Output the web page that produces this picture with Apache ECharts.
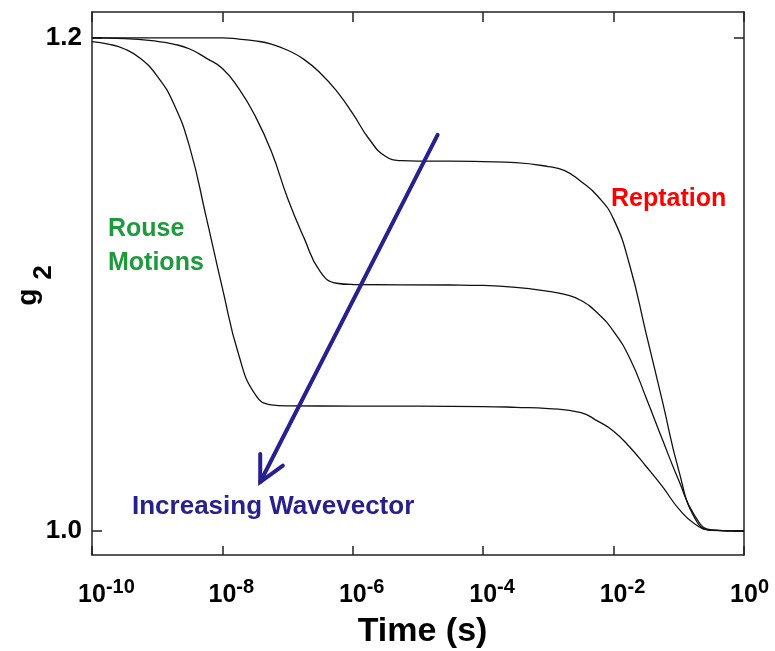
<!DOCTYPE html>
<html>
<head>
<meta charset="utf-8">
<script src="https://cdn.jsdelivr.net/npm/echarts@6/dist/echarts.min.js"></script>
<style>
html,body{margin:0;padding:0;background:#fff;}
#main{width:775px;height:651px;}
</style>
</head>
<body>
<div id="main"></div>
<script>
// ---- data (time as log10 exponent, g2 values) ----
var curve1Exp = [-10, -8.0, -7.75, -7.5, -7.25, -7.0, -6.75, -6.5, -6.25, -6.0, -5.75, -5.5, -5.25, -5.0, -4.5, -4.0, -3.5, -3.0, -2.75, -2.5, -2.25, -2.0, -1.75, -1.5, -1.25, -1.0, -0.75, -0.5, 0];
var curve1G   = [1.2000, 1.2000, 1.1995, 1.1988, 1.1975, 1.1950, 1.1913, 1.1858, 1.1785, 1.1693, 1.1590, 1.1520, 1.1502, 1.1500, 1.1500, 1.1498, 1.1494, 1.1478, 1.1462, 1.1418, 1.1360, 1.1265, 1.1075, 1.0800, 1.0525, 1.0245, 1.0050, 1.0003, 1.0000];

var curve2Exp = [-10, -9.5, -9.0, -8.75, -8.5, -8.25, -8.0, -7.75, -7.5, -7.25, -7.0, -6.75, -6.5, -6.25, -6.0, -4.5, -4.0, -3.5, -3.0, -2.75, -2.5, -2.25, -2.0, -1.75, -1.5, -1.25, -1.0, -0.75, -0.5, 0];
var curve2G   = [1.2000, 1.1997, 1.1986, 1.1975, 1.1955, 1.1918, 1.1876, 1.1795, 1.1685, 1.1540, 1.1350, 1.1190, 1.1052, 1.1005, 1.1000, 1.0998, 1.0996, 1.0988, 1.0972, 1.0960, 1.0935, 1.0885, 1.0810, 1.0700, 1.0540, 1.0370, 1.0205, 1.0060, 1.0005, 1.0000];

var curve3Exp = [-10, -9.75, -9.5, -9.25, -9.0, -8.75, -8.5, -8.25, -8.0, -7.75, -7.5, -7.25, -7.0, -6.0, -4.0, -3.5, -3.0, -2.5, -2.25, -2.0, -1.75, -1.5, -1.25, -1.0, -0.75, -0.5, 0];
var curve3G   = [1.1985, 1.1975, 1.1955, 1.1915, 1.1845, 1.1735, 1.1555, 1.1275, 1.0985, 1.0715, 1.0555, 1.0512, 1.0508, 1.0507, 1.0505, 1.0502, 1.0497, 1.0480, 1.0447, 1.0405, 1.0340, 1.0262, 1.0180, 1.0090, 1.0028, 1.0004, 1.0000];

var xTickExps = [-10, -8, -6, -4, -2, 0];
var yTicks = [1.0, 1.2];
var yRange = [0.9903, 1.2105];
var xRange = [-10, 0];

// arrow annotation (data coordinates: time, g2)
var arrowFrom = [2.0e-5, 1.1607];
var arrowTo = [3.8e-8, 1.0199];

var FONT = "'Liberation Sans', Arial, Helvetica, sans-serif";

function pairs(ex, g) {
  return ex.map(function (e, i) { return [Math.pow(10, e), g[i]]; });
}
var xTickVals = xTickExps.map(function (e) { return Math.pow(10, e); });

var chart = echarts.init(document.getElementById('main'), null, {renderer: 'canvas'});

var axisLineStyle = {color: '#222', width: 1.5};

function lineSeries(ex, g) {
  return {
    type: 'line', data: pairs(ex, g), showSymbol: false, symbol: 'none',
    smooth: 0.5,
    lineStyle: {color: '#111', width: 1.3}, silent: true
  };
}

var option = {
  animation: false,
  backgroundColor: '#fff',
  grid: {left: 92, right: 31, top: 12, bottom: 96, containLabel: false, outerBoundsMode: 'none'},
  xAxis: [{
    type: 'log', logBase: 10, min: Math.pow(10, xRange[0]), max: Math.pow(10, xRange[1]),
    position: 'bottom',
    axisLine: {show: true, onZero: false, lineStyle: axisLineStyle},
    axisTick: {show: true, inside: true, length: 9, lineStyle: axisLineStyle, customValues: xTickVals},
    splitLine: {show: false}, minorTick: {show: false},
    axisLabel: {
      show: true, margin: 22, customValues: xTickVals,
      formatter: function (v) {
        var e = Math.round(Math.log(v) / Math.LN10);
        var s = String(e);
        return '{h|' + s + '}{b|10}{e|' + s + '}';
      },
      rich: {
        b: {fontSize: 25, fontWeight: 'bold', color: '#000', fontFamily: FONT, verticalAlign: 'bottom'},
        e: {fontSize: 20, fontWeight: 'bold', color: '#000', fontFamily: FONT, verticalAlign: 'bottom', padding: [0, 0, 11, 0]},
        h: {fontSize: 20, fontWeight: 'bold', color: 'rgba(0,0,0,0)', fontFamily: FONT, verticalAlign: 'bottom', padding: [0, 0, 11, 0]}
      }
    },
    name: 'Time (s)', nameLocation: 'middle', nameGap: 60, nameMoveOverlap: false,
    nameTextStyle: {fontSize: 34, fontWeight: 'bold', color: '#000', fontFamily: FONT, padding: [0, 0, 0, 9]}
  }, {
    type: 'log', logBase: 10, min: Math.pow(10, xRange[0]), max: Math.pow(10, xRange[1]),
    position: 'top',
    axisLine: {show: true, onZero: false, lineStyle: axisLineStyle},
    axisTick: {show: true, inside: true, length: 10, lineStyle: axisLineStyle, customValues: xTickVals},
    axisLabel: {show: false}, splitLine: {show: false}
  }],
  yAxis: [{
    type: 'value', min: yRange[0], max: yRange[1], position: 'left',
    axisLine: {show: true, onZero: false, lineStyle: axisLineStyle},
    axisTick: {show: true, inside: true, length: 10, lineStyle: axisLineStyle, customValues: yTicks},
    splitLine: {show: false},
    axisLabel: {
      show: true, margin: 10, customValues: yTicks,
      formatter: function (v) { return v.toFixed(1); },
      fontSize: 26, fontWeight: 'bold', color: '#000', fontFamily: FONT
    },
    name: '{g|g}{s|2}', nameLocation: 'middle', nameGap: 35, nameRotate: 90, nameMoveOverlap: false,
    nameTextStyle: {
      padding: [0, 4, 0, 0],
      rich: {
        g: {fontSize: 28, fontWeight: 'bold', color: '#000', fontFamily: FONT, verticalAlign: 'top', padding: [5, 9, 0, 0]},
        s: {fontSize: 26, fontWeight: 'bold', color: '#000', fontFamily: FONT, verticalAlign: 'top', padding: [22, 0, 0, 0]}
      }
    }
  }, {
    type: 'value', min: yRange[0], max: yRange[1], position: 'right',
    axisLine: {show: true, onZero: false, lineStyle: axisLineStyle},
    axisTick: {show: true, inside: true, length: 10, lineStyle: axisLineStyle, customValues: yTicks},
    axisLabel: {show: false}, splitLine: {show: false}
  }],
  series: [
    lineSeries(curve1Exp, curve1G),
    lineSeries(curve2Exp, curve2G),
    lineSeries(curve3Exp, curve3G)
  ]
};
chart.setOption(option);

// annotations
var p0 = chart.convertToPixel({xAxisIndex: 0, yAxisIndex: 0}, arrowFrom);
var p1 = chart.convertToPixel({xAxisIndex: 0, yAxisIndex: 0}, arrowTo);
var ang = Math.atan2(p0[1] - p1[1], p0[0] - p1[0]);
var barbLen = 28, barbAng = 27 * Math.PI / 180;
var b1 = [p1[0] + barbLen * Math.cos(ang - barbAng), p1[1] + barbLen * Math.sin(ang - barbAng)];
var b2 = [p1[0] + barbLen * Math.cos(ang + barbAng), p1[1] + barbLen * Math.sin(ang + barbAng)];
var ARROW = '#27208f';

chart.setOption({
  graphic: [
    {type: 'line', shape: {x1: p0[0], y1: p0[1], x2: p1[0], y2: p1[1]}, style: {stroke: ARROW, lineWidth: 4, lineCap: 'round'}, z: 100},
    {type: 'polyline', shape: {points: [b1, p1, b2]}, style: {stroke: ARROW, lineWidth: 4, fill: null, lineCap: 'round', lineJoin: 'miter'}, z: 100},
    {type: 'text', x: 108, y: 229, style: {text: 'Rouse', font: 'bold 25px ' + FONT, fill: '#1e9a3c', verticalAlign: 'middle'}, z: 100},
    {type: 'text', x: 108, y: 263, style: {text: 'Motions', font: 'bold 25px ' + FONT, fill: '#1e9a3c', verticalAlign: 'middle'}, z: 100},
    {type: 'text', x: 611, y: 199, style: {text: 'Reptation', font: 'bold 25px ' + FONT, fill: '#ff0000', verticalAlign: 'middle'}, z: 100},
    {type: 'text', x: 132, y: 507, style: {text: 'Increasing Wavevector', font: 'bold 26px ' + FONT, fill: '#27208f', verticalAlign: 'middle'}, z: 100}
  ]
});
</script>
</body>
</html>
